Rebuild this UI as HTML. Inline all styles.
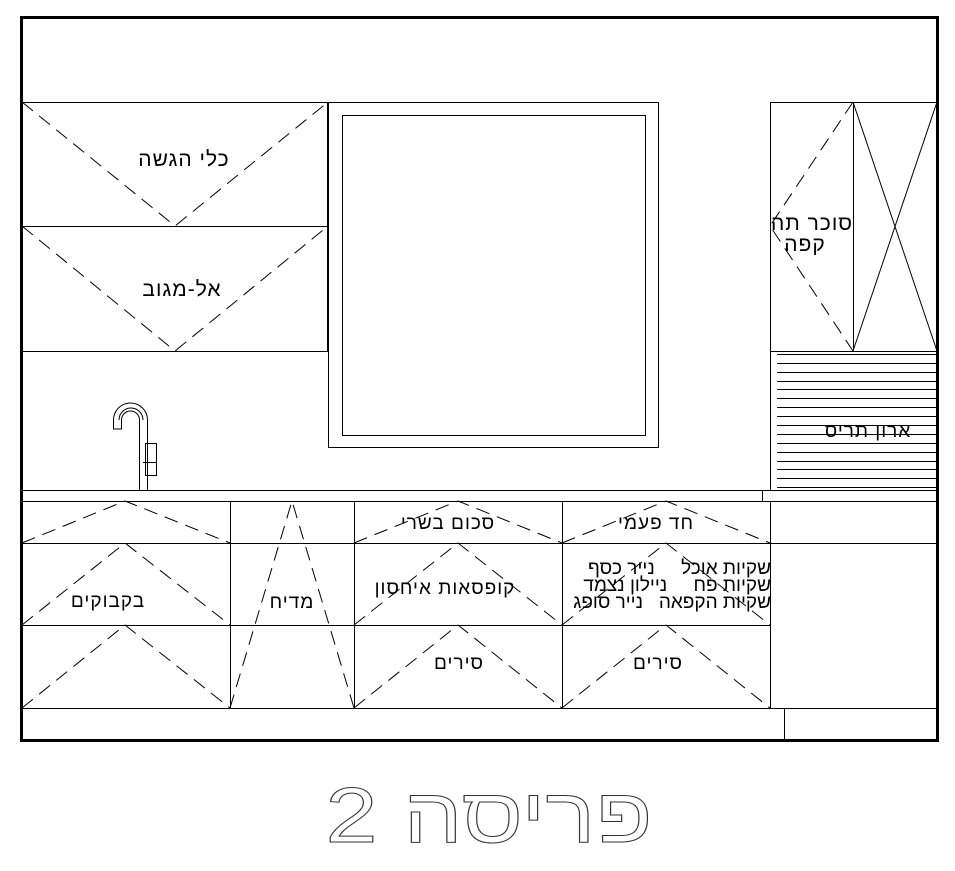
<!DOCTYPE html>
<html><head><meta charset="utf-8"><style>
html,body{margin:0;padding:0;background:#fff;}
svg{display:block;}
text{font-family:"Liberation Sans","Noto Sans CJK JP",sans-serif;}
</style></head><body>
<svg width="955" height="871" viewBox="0 0 955 871" xmlns="http://www.w3.org/2000/svg">
<g fill="none" stroke="#000" stroke-width="1">
<rect x="21.5" y="17.5" width="916" height="723" stroke-width="3"/>
<rect x="22.5" y="102.5" width="305" height="249"/>
<line x1="22" y1="226.5" x2="328" y2="226.5"/>
<rect x="328.5" y="102.5" width="330" height="345"/>
<rect x="342.5" y="115.5" width="303" height="320"/>
<rect x="770.5" y="102.5" width="166" height="388"/>
<line x1="853.5" y1="102" x2="853.5" y2="351"/>
<line x1="770" y1="351.5" x2="937" y2="351.5"/>
<line x1="853" y1="102" x2="937" y2="351"/>
<line x1="937" y1="102" x2="853" y2="351"/>
<line x1="22" y1="490.5" x2="937" y2="490.5"/>
<line x1="22" y1="501.5" x2="937" y2="501.5"/>
<line x1="762.5" y1="490" x2="762.5" y2="501"/>
<line x1="22" y1="543.5" x2="937" y2="543.5"/>
<line x1="22" y1="625.5" x2="770" y2="625.5"/>
<line x1="22" y1="708.5" x2="937" y2="708.5"/>
<line x1="230.5" y1="501" x2="230.5" y2="708"/>
<line x1="354.5" y1="501" x2="354.5" y2="708"/>
<line x1="562.5" y1="501" x2="562.5" y2="708"/>
<line x1="770.5" y1="501" x2="770.5" y2="708"/>
<line x1="784.5" y1="708" x2="784.5" y2="741"/>
<path d="M139.5 490 V420 a9 9 0 0 0 -18 0 v9 h-8 v-9 a17 17 0 0 1 34 0 V490"/>
<path d="M143 420 a12 12 0 0 0 -24 0"/>
<rect x="145.5" y="443.5" width="11" height="32"/>
<line x1="143" y1="462.5" x2="156" y2="462.5"/>
</g>
<g stroke="#000" stroke-width="1">
<line x1="777" y1="354.5" x2="937" y2="354.5"/><line x1="777" y1="363.5" x2="937" y2="363.5"/>
<line x1="777" y1="372.5" x2="937" y2="372.5"/><line x1="777" y1="381.5" x2="937" y2="381.5"/>
<line x1="777" y1="389.5" x2="937" y2="389.5"/><line x1="777" y1="398.5" x2="937" y2="398.5"/>
<line x1="777" y1="407.5" x2="937" y2="407.5"/><line x1="777" y1="416.5" x2="937" y2="416.5"/>
<line x1="777" y1="425.5" x2="937" y2="425.5"/><line x1="777" y1="434.5" x2="937" y2="434.5"/>
<line x1="777" y1="443.5" x2="937" y2="443.5"/><line x1="777" y1="452.5" x2="937" y2="452.5"/>
<line x1="777" y1="461.5" x2="937" y2="461.5"/><line x1="777" y1="469.5" x2="937" y2="469.5"/>
<line x1="777" y1="478.5" x2="937" y2="478.5"/><line x1="777" y1="487.5" x2="937" y2="487.5"/>
</g>
<g fill="none" stroke="#000" stroke-width="1" stroke-dasharray="14,8">
<polyline points="22,102 175,226 328,102"/>
<polyline points="22,226 175,351 328,226"/>
<polyline points="853,102 770,226 853,351"/>
<polyline points="22,543 125,501 230,543"/>
<polyline points="354,543 458,501 562,543"/>
<polyline points="562,543 666,501 770,543"/>
<polyline points="22,625 125,543 230,625"/>
<polyline points="354,625 458,543 562,625"/>
<polyline points="562,625 666,543 770,625"/>
<polyline points="22,708 125,625 230,708"/>
<polyline points="354,708 458,625 562,708"/>
<polyline points="562,708 666,625 770,708"/>
<polyline points="230,708 292,501 354,708"/>
</g>
<g style="fill:#000" font-size="21" text-anchor="middle" direction="rtl" letter-spacing="1">
<text x="184" y="166">כלי הגשה</text>
<text x="182" y="296">אל-מגוב</text>
<text x="812" y="230">סוכר תה</text>
<text x="805" y="251">קפה</text>
<text x="868" y="437" font-size="19">ארון תריס</text>
<text x="108" y="607" font-size="19">בקבוקים</text>
<text x="292" y="608" font-size="19">מדיח</text>
<text x="448" y="529" font-size="19">סכום בשרי</text>
<text x="445" y="594" font-size="19">קופסאות איחסון</text>
<text x="459" y="669" font-size="19">סירים</text>
<text x="656" y="529" font-size="19">חד פעמי</text>
<text x="658" y="669" font-size="19">סירים</text>
</g>
<clipPath id="c4"><rect x="563" y="544" width="207" height="81"/></clipPath>
<g style="fill:#000" font-size="19" text-anchor="start" direction="rtl" clip-path="url(#c4)">
<text x="771" y="574" xml:space="preserve">שקיות אוכל     נייר כסף</text>
<text x="771" y="591" xml:space="preserve">שקיות פח     ניילון נצמד</text>
<text x="771" y="608" xml:space="preserve">שקיות הקפאה   נייר סופג</text>
</g>
<text x="489" y="842" font-size="78" text-anchor="middle" direction="rtl" style="fill:#fff;stroke:#333;stroke-width:1" textLength="327" lengthAdjust="spacingAndGlyphs" xml:space="preserve">פריסה 2</text>
</svg>
</body></html>
